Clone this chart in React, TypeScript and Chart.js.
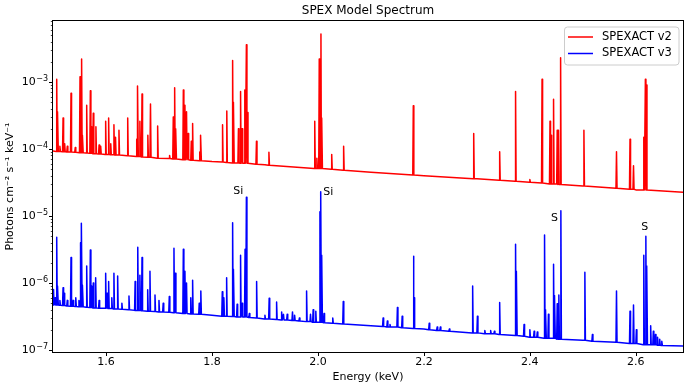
import React, { useEffect, useRef } from 'react';
import { Chart, registerables } from 'chart.js';

Chart.register(...registerables);

const FONT = "'DejaVu Sans', sans-serif";

const chartTitle = 'SPEX Model Spectrum';
const xTitle = 'Energy (keV)';
const yTitle = 'Photons cm\u207B\u00B2 s\u207B\u00B9 keV\u207B\u00B9';
const seriesLabels = ['SPEXACT v2', 'SPEXACT v3'];
const seriesColors = ['#ff0000', '#0000ff'];

const xTicks = [1.6, 1.8, 2.0, 2.2, 2.4, 2.6];
const yMajorTicks = [1e-7, 1e-6, 1e-5, 1e-4, 1e-3];
const xRange = [1.5, 2.689];
const yRange = [9.33e-8, 8.13e-3];

// continuum (energy keV, flux)
const v2ContE = [1.5, 1.6, 1.7, 1.8, 1.9, 2.0, 2.1, 2.2, 2.3, 2.4, 2.5, 2.6, 2.69];
const v2ContF = [9.3e-5, 8.3e-5, 7.3e-5, 6.5e-5, 5.8e-5, 5.1e-5, 4.5e-5, 4.0e-5, 3.6e-5, 3.2e-5, 2.8e-5, 2.45e-5, 2.25e-5];
const v3ContE = [1.5, 1.6, 1.7, 1.8, 1.9, 2.0, 2.1, 2.2, 2.3, 2.4, 2.5, 2.6, 2.69];
const v3ContF = [4.7e-7, 4.2e-7, 3.7e-7, 3.3e-7, 2.9e-7, 2.6e-7, 2.3e-7, 2.05e-7, 1.8e-7, 1.55e-7, 1.4e-7, 1.25e-7, 1.15e-7];

// SPEXACT v2 emission lines
const v2LineE = [1.507, 1.509, 1.513, 1.519, 1.522, 1.527, 1.534, 1.542, 1.551, 1.554, 1.556, 1.5636, 1.5705, 1.573, 1.576, 1.581, 1.587, 1.590, 1.5994, 1.605, 1.609, 1.615, 1.618, 1.6245, 1.641, 1.658, 1.660, 1.664, 1.668, 1.679, 1.684, 1.6975, 1.720, 1.727, 1.7296, 1.732, 1.746, 1.749, 1.752, 1.755, 1.761, 1.7635, 1.777, 1.779, 1.820, 1.828, 1.839, 1.841, 1.850, 1.854, 1.857, 1.862, 1.865, 1.867, 1.884, 1.9075, 1.994, 1.998, 2.0025, 2.0057, 2.0075, 2.026, 2.0485, 2.180, 2.294, 2.343, 2.373, 2.400, 2.423, 2.438, 2.440, 2.4447, 2.4516, 2.454, 2.458, 2.502, 2.5635, 2.589, 2.5956, 2.615, 2.618, 2.620];
const v2LinePeak = [1.1e-3, 3.6e-4, 1.1e-4, 2.9e-4, 1.2e-4, 1.1e-4, 6.8e-4, 1.05e-4, 1.2e-3, 2.2e-3, 1.6e-4, 4.5e-4, 7.4e-4, 2.15e-4, 3.4e-4, 2.15e-4, 1.15e-4, 1.1e-4, 2.6e-4, 2.9e-4, 1.2e-4, 2.3e-4, 1.5e-4, 1.9e-4, 2.9e-4, 1.4e-4, 8.7e-4, 2.6e-4, 6.6e-4, 1.6e-4, 4.7e-4, 2.2e-4, 8.0e-5, 3.0e-4, 8.2e-4, 2.0e-4, 7.6e-4, 4.5e-4, 3.6e-4, 1.7e-4, 1.3e-4, 2.4e-4, 9.0e-5, 1.6e-4, 2.3e-4, 3.7e-4, 2.1e-3, 5.0e-4, 2.0e-4, 7.2e-4, 2.0e-4, 7.6e-4, 3.6e-3, 3.5e-4, 1.3e-4, 8.9e-5, 2.6e-4, 7.3e-5, 2.2e-3, 5.2e-3, 2.9e-4, 8.3e-5, 1.1e-4, 4.4e-4, 1.7e-4, 9.1e-5, 7.2e-4, 3.5e-5, 1.1e-3, 2.6e-4, 1.6e-4, 5.5e-4, 1.9e-4, 1.9e-4, 2.3e-3, 1.9e-4, 9.1e-5, 1.4e-4, 5.6e-5, 1.5e-4, 1.1e-3, 9.0e-4];
const v2LineFoot = [9.2e-5, 9.2e-5, 9.2e-5, 9.1e-5, 9.1e-5, 9.0e-5, 9.0e-5, 8.9e-5, 8.8e-5, 8.8e-5, 8.8e-5, 8.7e-5, 8.6e-5, 8.6e-5, 8.5e-5, 8.5e-5, 8.4e-5, 8.4e-5, 8.3e-5, 8.3e-5, 8.2e-5, 8.2e-5, 8.1e-5, 8.1e-5, 7.9e-5, 7.7e-5, 7.7e-5, 7.7e-5, 7.6e-5, 7.5e-5, 7.5e-5, 7.3e-5, 7.2e-5, 7.1e-5, 7.1e-5, 7.1e-5, 6.9e-5, 6.9e-5, 6.9e-5, 6.9e-5, 6.8e-5, 6.8e-5, 6.7e-5, 6.7e-5, 6.4e-5, 6.3e-5, 6.2e-5, 6.2e-5, 6.2e-5, 6.1e-5, 6.1e-5, 6.1e-5, 6.1e-5, 6.1e-5, 5.9e-5, 5.7e-5, 5.1e-5, 5.1e-5, 5.1e-5, 5.1e-5, 5.1e-5, 5.0e-5, 4.8e-5, 4.1e-5, 3.6e-5, 3.4e-5, 3.3e-5, 3.2e-5, 3.1e-5, 3.0e-5, 3.0e-5, 3.0e-5, 3.0e-5, 2.95e-5, 2.95e-5, 2.8e-5, 2.6e-5, 2.5e-5, 2.5e-5, 2.45e-5, 2.45e-5, 2.45e-5];

// SPEXACT v3 emission lines
const v3LineE = [1.501, 1.504, 1.507, 1.509, 1.513, 1.519, 1.521, 1.527, 1.534, 1.538, 1.543, 1.549, 1.552, 1.554, 1.556, 1.5636, 1.5705, 1.573, 1.576, 1.5805, 1.587, 1.5994, 1.602, 1.605, 1.611, 1.615, 1.622, 1.630, 1.6434, 1.655, 1.660, 1.664, 1.668, 1.6787, 1.683, 1.6925, 1.700, 1.708, 1.7195, 1.7283, 1.731, 1.746, 1.749, 1.752, 1.760, 1.7635, 1.776, 1.779, 1.8195, 1.8225, 1.8277, 1.839, 1.841, 1.8475, 1.854, 1.857, 1.8625, 1.865, 1.8705, 1.8843, 1.900, 1.908, 1.922, 1.9315, 1.935, 1.942, 1.952, 1.956, 1.965, 1.9786, 1.986, 1.991, 1.996, 2.0038, 2.0057, 2.0075, 2.0115, 2.028, 2.0478, 2.123, 2.131, 2.136, 2.150, 2.159, 2.1805, 2.182, 2.210, 2.225, 2.231, 2.248, 2.292, 2.301, 2.315, 2.326, 2.333, 2.343, 2.373, 2.375, 2.389, 2.400, 2.408, 2.414, 2.4277, 2.430, 2.435, 2.4447, 2.447, 2.4516, 2.4547, 2.4585, 2.5038, 2.518, 2.5635, 2.589, 2.5956, 2.601, 2.615, 2.6189, 2.621, 2.628, 2.633, 2.637, 2.641, 2.645, 2.649];
const v3LinePeak = [8.0e-7, 6.0e-7, 4.8e-6, 9.0e-7, 5.5e-7, 8.5e-7, 7.0e-7, 5.5e-7, 2.4e-6, 5.5e-7, 6.0e-7, 5.5e-7, 4.0e-6, 7.8e-6, 9.3e-7, 1.8e-6, 3.1e-6, 9.0e-7, 1.0e-6, 1.2e-6, 5.5e-7, 1.4e-6, 7.0e-7, 1.05e-6, 6.0e-7, 1.4e-6, 1.27e-6, 5.0e-7, 6.4e-7, 1.05e-6, 3.4e-6, 1.3e-6, 2.4e-6, 7.9e-7, 1.5e-6, 6.6e-7, 5.5e-7, 5.0e-7, 6.3e-7, 3.3e-6, 1.4e-6, 3.2e-6, 1.5e-6, 1.0e-6, 6.0e-7, 1.1e-6, 5.0e-7, 7.6e-7, 7.4e-7, 6.0e-7, 1.2e-6, 7.9e-6, 1.6e-6, 4.8e-7, 2.6e-6, 5.0e-7, 3.2e-6, 1.9e-5, 3.5e-7, 1.05e-6, 3.3e-7, 5.9e-7, 5.2e-7, 3.7e-7, 3.4e-7, 3.4e-7, 3.7e-7, 3.3e-7, 3.0e-7, 7.6e-7, 3.4e-7, 4.0e-7, 3.8e-7, 1.16e-5, 2.3e-5, 2.6e-6, 3.5e-7, 3.0e-7, 5.3e-7, 3.0e-7, 2.7e-7, 2.4e-7, 4.3e-7, 3.2e-7, 2.5e-6, 6.0e-7, 2.5e-7, 2.2e-7, 2.2e-7, 2.05e-7, 9.0e-7, 3.2e-7, 1.95e-7, 1.95e-7, 1.9e-7, 5.1e-7, 3.8e-6, 1.5e-6, 2.4e-7, 2.0e-7, 1.9e-7, 1.85e-7, 5.2e-6, 4.0e-7, 3.4e-7, 1.9e-6, 6.5e-7, 4.9e-7, 6.6e-7, 1.2e-5, 1.45e-6, 1.7e-7, 7.6e-7, 3.8e-7, 4.7e-7, 2.0e-7, 2.6e-6, 5.0e-6, 1.8e-6, 2.3e-7, 1.9e-7, 1.7e-7, 1.55e-7, 1.45e-7, 1.35e-7];
const v3LineFoot = [4.7e-7, 4.7e-7, 4.7e-7, 4.7e-7, 4.65e-7, 4.6e-7, 4.6e-7, 4.55e-7, 4.5e-7, 4.5e-7, 4.45e-7, 4.4e-7, 4.4e-7, 4.4e-7, 4.4e-7, 4.35e-7, 4.3e-7, 4.3e-7, 4.25e-7, 4.25e-7, 4.2e-7, 4.2e-7, 4.2e-7, 4.15e-7, 4.15e-7, 4.1e-7, 4.1e-7, 4.05e-7, 4.0e-7, 3.9e-7, 3.9e-7, 3.9e-7, 3.85e-7, 3.8e-7, 3.8e-7, 3.75e-7, 3.7e-7, 3.7e-7, 3.65e-7, 3.6e-7, 3.6e-7, 3.5e-7, 3.5e-7, 3.5e-7, 3.45e-7, 3.45e-7, 3.4e-7, 3.4e-7, 3.2e-7, 3.2e-7, 3.2e-7, 3.15e-7, 3.15e-7, 3.1e-7, 3.1e-7, 3.1e-7, 3.1e-7, 3.1e-7, 3.05e-7, 3.0e-7, 2.9e-7, 2.9e-7, 2.85e-7, 2.8e-7, 2.8e-7, 2.8e-7, 2.75e-7, 2.75e-7, 2.7e-7, 2.65e-7, 2.65e-7, 2.6e-7, 2.6e-7, 2.6e-7, 2.6e-7, 2.6e-7, 2.55e-7, 2.5e-7, 2.45e-7, 2.25e-7, 2.2e-7, 2.2e-7, 2.2e-7, 2.15e-7, 2.1e-7, 2.1e-7, 2.0e-7, 1.95e-7, 1.95e-7, 1.9e-7, 1.8e-7, 1.8e-7, 1.75e-7, 1.75e-7, 1.75e-7, 1.7e-7, 1.65e-7, 1.65e-7, 1.6e-7, 1.55e-7, 1.55e-7, 1.55e-7, 1.5e-7, 1.5e-7, 1.5e-7, 1.5e-7, 1.5e-7, 1.45e-7, 1.45e-7, 1.45e-7, 1.4e-7, 1.35e-7, 1.3e-7, 1.25e-7, 1.25e-7, 1.25e-7, 1.2e-7, 1.2e-7, 1.2e-7, 1.2e-7, 1.2e-7, 1.2e-7, 1.18e-7, 1.18e-7, 1.17e-7];

// annotations
const annotLabels = ['Si', 'Si', 'S', 'S'];
const annotE = [1.84, 2.01, 2.44, 2.61];
const annotF = [2.36e-5, 2.28e-5, 9.3e-6, 6.85e-6];

const LINE_HALF_WIDTH = 0.001;

function buildSpectrum(contE: number[], contF: number[], lineE: number[], linePeak: number[], lineFoot: number[]) {
  const pts: { x: number; y: number }[] = [];
  contE.forEach((e, i) => {
    const near = lineE.some((le) => Math.abs(le - e) <= LINE_HALF_WIDTH);
    if (!near) pts.push({ x: e, y: contF[i] });
  });
  lineE.forEach((e, i) => {
    pts.push({ x: e - LINE_HALF_WIDTH, y: lineFoot[i] });
    pts.push({ x: e, y: linePeak[i] });
    pts.push({ x: e + LINE_HALF_WIDTH, y: lineFoot[i] });
  });
  pts.sort((a, b) => a.x - b.x);
  return pts;
}

const decorPlugin = {
  id: 'decor',
  afterDraw(chart: any) {
    const { ctx, chartArea: a, scales } = chart;
    const xs = scales.x;
    const ys = scales.y;
    ctx.save();
    // frame
    ctx.strokeStyle = '#000';
    ctx.lineWidth = 1;
    ctx.strokeRect(a.left - 0.5, a.top - 0.5, a.right - a.left + 1, a.bottom - a.top + 1);
    // x ticks
    ctx.beginPath();
    xTicks.forEach((t) => {
      const px = Math.round(xs.getPixelForValue(t)) + 0.5;
      ctx.moveTo(px, a.bottom);
      ctx.lineTo(px, a.bottom + 4);
    });
    // y major ticks
    yMajorTicks.forEach((t) => {
      const py = Math.round(ys.getPixelForValue(t)) + 0.5;
      ctx.moveTo(a.left - 4, py);
      ctx.lineTo(a.left, py);
    });
    ctx.stroke();
    // y minor ticks
    ctx.beginPath();
    ctx.lineWidth = 0.7;
    for (let k = -8; k <= -2; k++) {
      for (let m = 2; m <= 9; m++) {
        const v = m * Math.pow(10, k);
        if (v < yRange[0] || v > yRange[1]) continue;
        const py = Math.round(ys.getPixelForValue(v)) + 0.5;
        ctx.moveTo(a.left - 2.2, py);
        ctx.lineTo(a.left, py);
      }
    }
    ctx.stroke();

    // y tick labels: 10 with superscript exponent
    ctx.fillStyle = '#000';
    yMajorTicks.forEach((t) => {
      const py = ys.getPixelForValue(t);
      const exp = '\u2212' + String(Math.abs(Math.round(Math.log10(t))));
      ctx.font = `8px ${FONT}`;
      const ew = ctx.measureText(exp).width;
      ctx.textAlign = 'right';
      ctx.textBaseline = 'alphabetic';
      const rightEdge = a.left - 5;
      ctx.fillText(exp, rightEdge, py - 0.5);
      ctx.font = `11px ${FONT}`;
      ctx.textBaseline = 'middle';
      ctx.fillText('10', rightEdge - ew - 0.5, py + 0.5);
    });

    // title
    ctx.fillStyle = '#000';
    ctx.font = `12px ${FONT}`;
    ctx.textAlign = 'center';
    ctx.textBaseline = 'middle';
    ctx.fillText(chartTitle, (a.left + a.right) / 2, 11);

    // annotations
    ctx.font = `11px ${FONT}`;
    ctx.textAlign = 'left';
    ctx.textBaseline = 'middle';
    annotLabels.forEach((lab, i) => {
      ctx.fillText(lab, xs.getPixelForValue(annotE[i]), ys.getPixelForValue(annotF[i]));
    });

    // legend
    const lx = 564.5, ly = 27, lw = 114.5, lh = 38, r = 3;
    ctx.beginPath();
    ctx.moveTo(lx + r, ly);
    ctx.lineTo(lx + lw - r, ly);
    ctx.quadraticCurveTo(lx + lw, ly, lx + lw, ly + r);
    ctx.lineTo(lx + lw, ly + lh - r);
    ctx.quadraticCurveTo(lx + lw, ly + lh, lx + lw - r, ly + lh);
    ctx.lineTo(lx + r, ly + lh);
    ctx.quadraticCurveTo(lx, ly + lh, lx, ly + lh - r);
    ctx.lineTo(lx, ly + r);
    ctx.quadraticCurveTo(lx, ly, lx + r, ly);
    ctx.closePath();
    ctx.fillStyle = 'rgba(255,255,255,0.8)';
    ctx.fill();
    ctx.strokeStyle = '#cccccc';
    ctx.lineWidth = 1;
    ctx.stroke();
    const rowsY = [37, 53.5];
    seriesLabels.forEach((lab, i) => {
      ctx.strokeStyle = seriesColors[i];
      ctx.lineWidth = 1.5;
      ctx.beginPath();
      ctx.moveTo(568, rowsY[i]);
      ctx.lineTo(593, rowsY[i]);
      ctx.stroke();
      ctx.fillStyle = '#000';
      ctx.font = `11.5px ${FONT}`;
      ctx.textAlign = 'left';
      ctx.textBaseline = 'middle';
      ctx.fillText(lab, 602, rowsY[i]);
    });
    ctx.restore();
  },
};

export default function App() {
  const ref = useRef<HTMLCanvasElement | null>(null);
  useEffect(() => {
    document.body.style.margin = '0';
    const canvas = ref.current;
    if (!canvas) return;
    const chart = new Chart(canvas, {
      type: 'line',
      data: {
        datasets: [
          {
            label: seriesLabels[0],
            data: buildSpectrum(v2ContE, v2ContF, v2LineE, v2LinePeak, v2LineFoot),
            borderColor: seriesColors[0],
            borderWidth: 1.5,
            borderJoinStyle: 'round',
            borderCapStyle: 'round',
            pointRadius: 0,
            tension: 0,
            fill: false,
          },
          {
            label: seriesLabels[1],
            data: buildSpectrum(v3ContE, v3ContF, v3LineE, v3LinePeak, v3LineFoot),
            borderColor: seriesColors[1],
            borderWidth: 1.5,
            borderJoinStyle: 'round',
            borderCapStyle: 'round',
            pointRadius: 0,
            tension: 0,
            fill: false,
          },
        ],
      },
      options: {
        animation: false,
        responsive: false,
        devicePixelRatio: 1,
        events: [],
        layout: { padding: { top: 21, right: 7, left: 0, bottom: 0 } },
        scales: {
          x: {
            type: 'linear',
            min: xRange[0],
            max: xRange[1],
            afterBuildTicks: (s: any) => {
              s.ticks = xTicks.map((v) => ({ value: v }));
            },
            afterFit: (s: any) => {
              s.height = 37;
            },
            grid: { display: false, drawTicks: false },
            border: { display: false },
            ticks: {
              autoSkip: false,
              maxRotation: 0,
              padding: 4,
              color: '#000',
              font: { family: FONT, size: 11 },
              callback: (v: any) => Number(v).toFixed(1),
            },
            title: {
              display: true,
              text: xTitle,
              color: '#000',
              font: { family: FONT, size: 11 },
              padding: { top: 0, bottom: 5.4 },
            },
          },
          y: {
            type: 'logarithmic',
            min: yRange[0],
            max: yRange[1],
            afterBuildTicks: (s: any) => {
              s.ticks = yMajorTicks.map((v) => ({ value: v, major: true }));
            },
            afterFit: (s: any) => {
              s.width = 53;
            },
            grid: { display: false, drawTicks: false },
            border: { display: false },
            ticks: { display: false },
            title: {
              display: true,
              text: yTitle,
              color: '#000',
              font: { family: FONT, size: 11 },
              padding: { top: 3.5, bottom: 0 },
            },
          },
        },
        plugins: {
          legend: { display: false },
          title: { display: false },
          tooltip: { enabled: false },
        },
      } as any,
      plugins: [decorPlugin],
    });
    return () => chart.destroy();
  }, []);
  return (
    <div style={{ width: 690, height: 389 }}>
      <canvas ref={ref} width={690} height={389} style={{ width: 690, height: 389, display: 'block' }} />
    </div>
  );
}
